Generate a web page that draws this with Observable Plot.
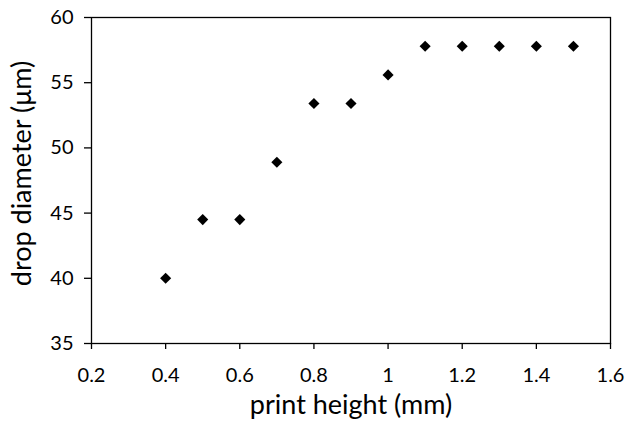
<!DOCTYPE html>
<html>
<head>
<meta charset="utf-8">
<script src="https://cdn.jsdelivr.net/npm/d3@7"></script>
<script src="https://cdn.jsdelivr.net/npm/@observablehq/plot@0.6"></script>
<style>
  html, body { margin: 0; padding: 0; background: #fff; }
  #chart svg { display: block; }
</style>
</head>
<body>
<div id="chart"></div>
<script>
const printHeight = [0.4, 0.5, 0.6, 0.7, 0.8, 0.9, 1.0, 1.1, 1.2, 1.3, 1.4, 1.5];
const dropDiameter = [40.0, 44.5, 44.5, 48.9, 53.4, 53.4, 55.6, 57.8, 57.8, 57.8, 57.8, 57.8];
const xTicks = [0.2, 0.4, 0.6, 0.8, 1, 1.2, 1.4, 1.6];
const yTicks = [35, 40, 45, 50, 55, 60];
const xTitle = "print height (mm)";
const yTitle = "drop diameter (μm)";

const data = printHeight.map((x, i) => ({x, y: dropDiameter[i]}));

const chart = Plot.plot({
  width: 628,
  height: 421,
  marginLeft: 91,
  marginRight: 18,
  marginTop: 17,
  marginBottom: 78,
  style: {fontFamily: "Lato, sans-serif", fontSize: "20px", color: "#000", background: "#fff"},
  x: {domain: [0.2, 1.6]},
  y: {domain: [35, 60]},
  marks: [
    Plot.frame({stroke: "#000", strokeWidth: 1.3}),
    Plot.axisX({ticks: xTicks, tickFormat: d => String(d), tickSize: 6, tickPadding: 18, label: null, stroke: "#000", strokeWidth: 1.3, fill: "#000", fontSize: 20}),
    Plot.axisY({ticks: yTicks, tickSize: 7, tickPadding: 11, label: null, stroke: "#000", strokeWidth: 1.3, fill: "#000", fontSize: 20}),
    Plot.text([xTitle], {frameAnchor: "bottom", dy: 62, text: d => d, textAnchor: "middle", lineAnchor: "middle", fontSize: 27, fill: "#000"}),
    Plot.text([yTitle], {frameAnchor: "left", dx: -69, dy: -7, rotate: -90, text: d => d, textAnchor: "middle", lineAnchor: "middle", fontSize: 27, fill: "#000"}),
    Plot.dot(data, {x: "x", y: "y", symbol: "diamond2", r: 5, fill: "#000", stroke: "none"})
  ]
});
document.getElementById("chart").appendChild(chart);
</script>
</body>
</html>
